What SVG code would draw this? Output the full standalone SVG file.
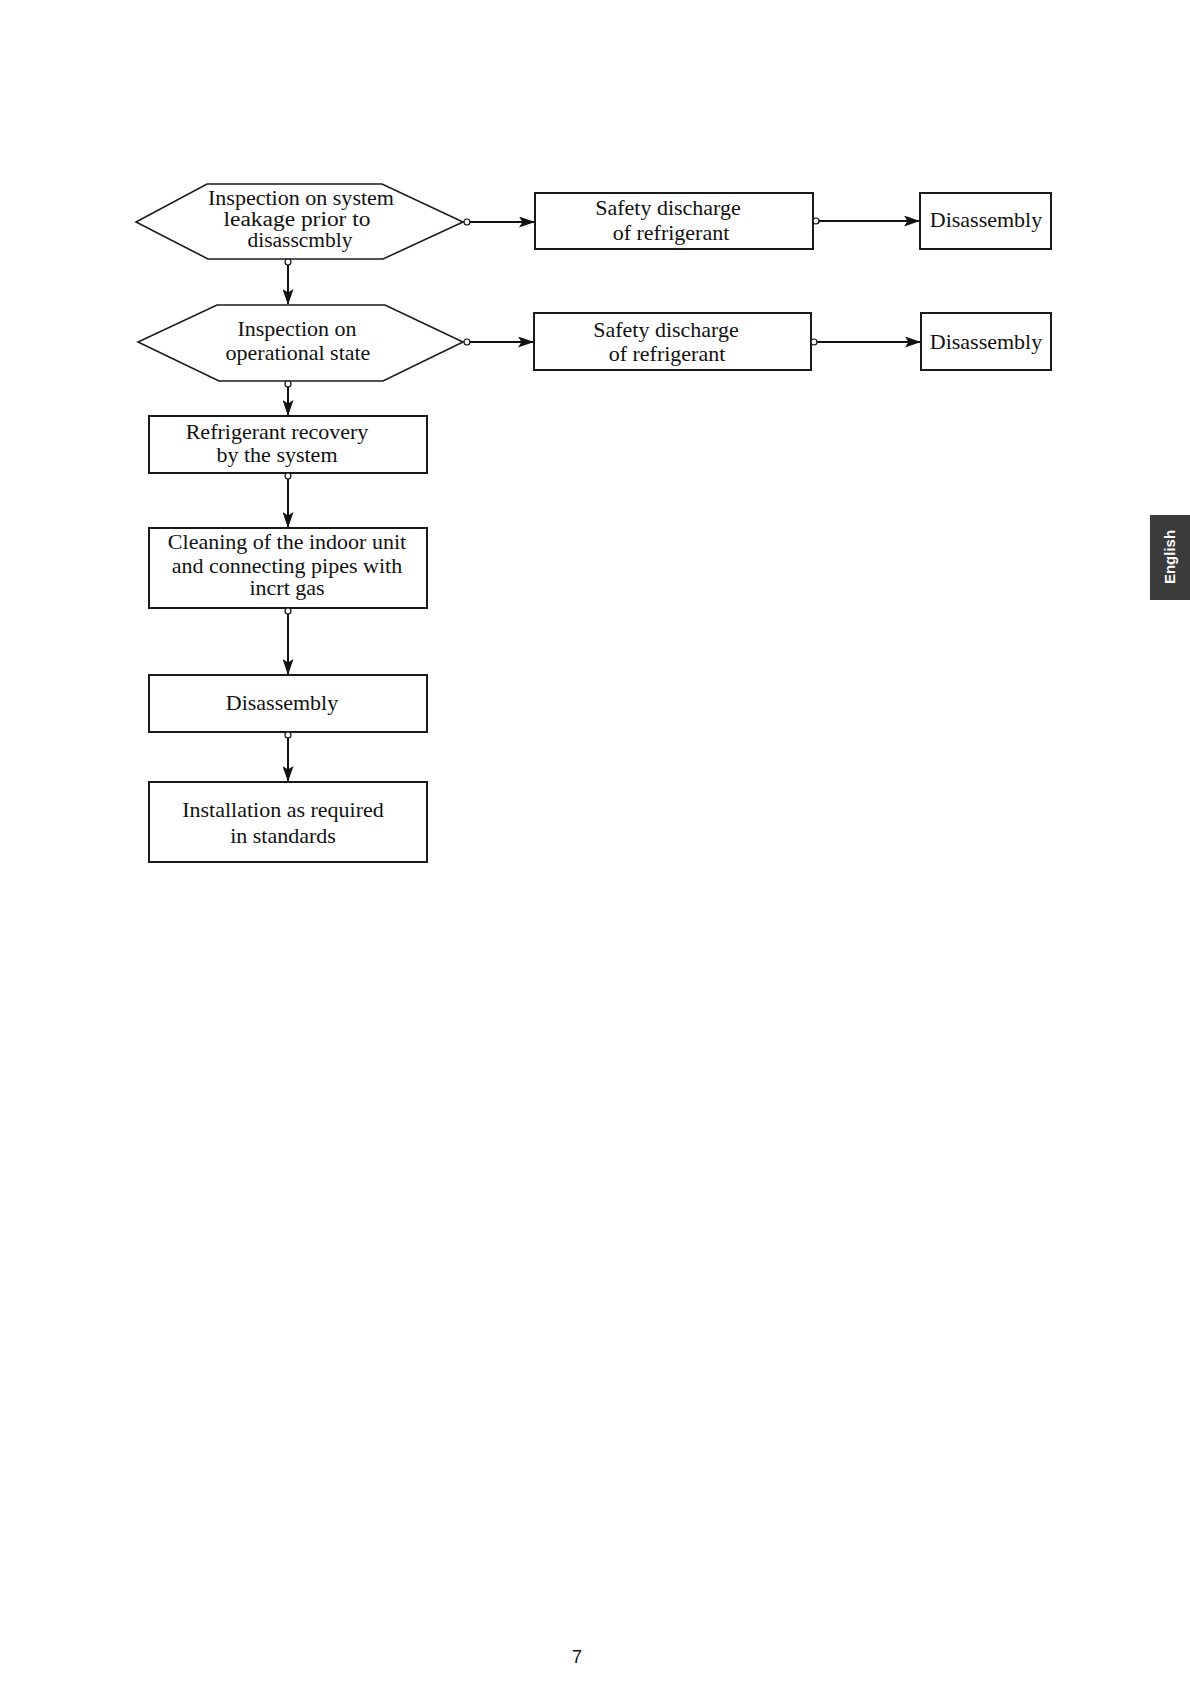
<svg xmlns="http://www.w3.org/2000/svg" width="1190" height="1684" viewBox="0 0 1190 1684">
<style>
.bg{fill:#ffffff}
.box{fill:#ffffff;stroke:#1a1a1a;stroke-width:2}
.hex{fill:#ffffff;stroke:#1a1a1a;stroke-width:1.6}
.t{font-family:"Liberation Serif","Times New Roman",serif;font-size:22px;fill:#111;text-anchor:middle}
.ts{font-size:20px}
.con{stroke:#111;stroke-width:2;fill:none}
.dot{fill:#ffffff;stroke:#111;stroke-width:1.2}
</style>
<defs>
<marker id="arr" viewBox="0 0 16 11" refX="15" refY="5.5" markerWidth="16" markerHeight="11" markerUnits="userSpaceOnUse" orient="auto">
<path d="M0,0 L16,5.5 L0,11 L3.5,5.5 Z" fill="#111"/>
</marker>
</defs>
<rect class="bg" x="0" y="0" width="1190" height="1684"/>

<g id="n-hex1">
<polygon class="hex" points="207,184 382,184 463,222 383,259 208,259 136,222"/>
<text class="t ts" x="301" y="205" textLength="186" lengthAdjust="spacingAndGlyphs">Inspection on system</text>
<text class="t ts" x="297" y="226" textLength="147" lengthAdjust="spacingAndGlyphs">leakage prior to</text>
<text class="t ts" x="300" y="247" textLength="105" lengthAdjust="spacingAndGlyphs">disasscmbly</text>
</g>
<g id="n-hex2">
<polygon class="hex" points="217,305 385,305 463,342 383,381 219,381 138,342"/>
<text class="t" x="297" y="336">Inspection on</text>
<text class="t" x="298" y="360">operational state</text>
</g>
<g id="n-safety1">
<rect class="box" x="535" y="193" width="278" height="56"/>
<text class="t" x="668" y="215">Safety discharge</text>
<text class="t" x="671" y="240">of refrigerant</text>
</g>
<g id="n-dis1">
<rect class="box" x="920" y="193" width="131" height="56"/>
<text class="t" x="986" y="227">Disassembly</text>
</g>
<g id="n-safety2">
<rect class="box" x="534" y="313" width="277" height="57"/>
<text class="t" x="666" y="337">Safety discharge</text>
<text class="t" x="667" y="361">of refrigerant</text>
</g>
<g id="n-dis2">
<rect class="box" x="921" y="313" width="130" height="57"/>
<text class="t" x="986" y="349">Disassembly</text>
</g>
<g id="n-recovery">
<rect class="box" x="149" y="416" width="278" height="57"/>
<text class="t" x="277" y="439">Refrigerant recovery</text>
<text class="t" x="277" y="462">by the system</text>
</g>
<g id="n-cleaning">
<rect class="box" x="149" y="528" width="278" height="80"/>
<text class="t" x="287" y="549">Cleaning of the indoor unit</text>
<text class="t" x="287" y="573">and connecting pipes with</text>
<text class="t" x="287" y="595">incrt gas</text>
</g>
<g id="n-dis3">
<rect class="box" x="149" y="675" width="278" height="57"/>
<text class="t" x="282" y="710">Disassembly</text>
</g>
<g id="n-install">
<rect class="box" x="149" y="782" width="278" height="80"/>
<text class="t" x="283" y="817">Installation as required</text>
<text class="t" x="283" y="843">in standards</text>
</g>

<g id="connectors">
<line class="con" x1="470" y1="222" x2="534" y2="222" marker-end="url(#arr)"/>
<circle class="dot" cx="467" cy="222" r="3"/>
<line class="con" x1="288" y1="265" x2="288" y2="304" marker-end="url(#arr)"/>
<circle class="dot" cx="288" cy="262" r="3"/>
<line class="con" x1="470" y1="342" x2="533" y2="342" marker-end="url(#arr)"/>
<circle class="dot" cx="467" cy="342" r="3"/>
<line class="con" x1="288" y1="387" x2="288" y2="415" marker-end="url(#arr)"/>
<circle class="dot" cx="288" cy="384" r="3"/>
<line class="con" x1="819" y1="221" x2="919" y2="221" marker-end="url(#arr)"/>
<circle class="dot" cx="816" cy="221" r="3"/>
<line class="con" x1="817" y1="342" x2="920" y2="342" marker-end="url(#arr)"/>
<circle class="dot" cx="814" cy="342" r="3"/>
<line class="con" x1="288" y1="479" x2="288" y2="527" marker-end="url(#arr)"/>
<circle class="dot" cx="288" cy="476" r="3"/>
<line class="con" x1="288" y1="614" x2="288" y2="674" marker-end="url(#arr)"/>
<circle class="dot" cx="288" cy="611" r="3"/>
<line class="con" x1="288" y1="738" x2="288" y2="781" marker-end="url(#arr)"/>
<circle class="dot" cx="288" cy="735" r="3"/>
</g>

<g id="tab">
<rect x="1150" y="515" width="40" height="85" fill="#3b3b3b"/>
<text x="0" y="0" transform="translate(1175,557) rotate(-90)" font-family="Liberation Sans, Arial, sans-serif" font-size="15" font-weight="bold" fill="#ffffff" text-anchor="middle">English</text>
</g>
<text x="577" y="1663" font-family="Liberation Sans, Arial, sans-serif" font-size="18" fill="#111" text-anchor="middle">7</text>
</svg>
